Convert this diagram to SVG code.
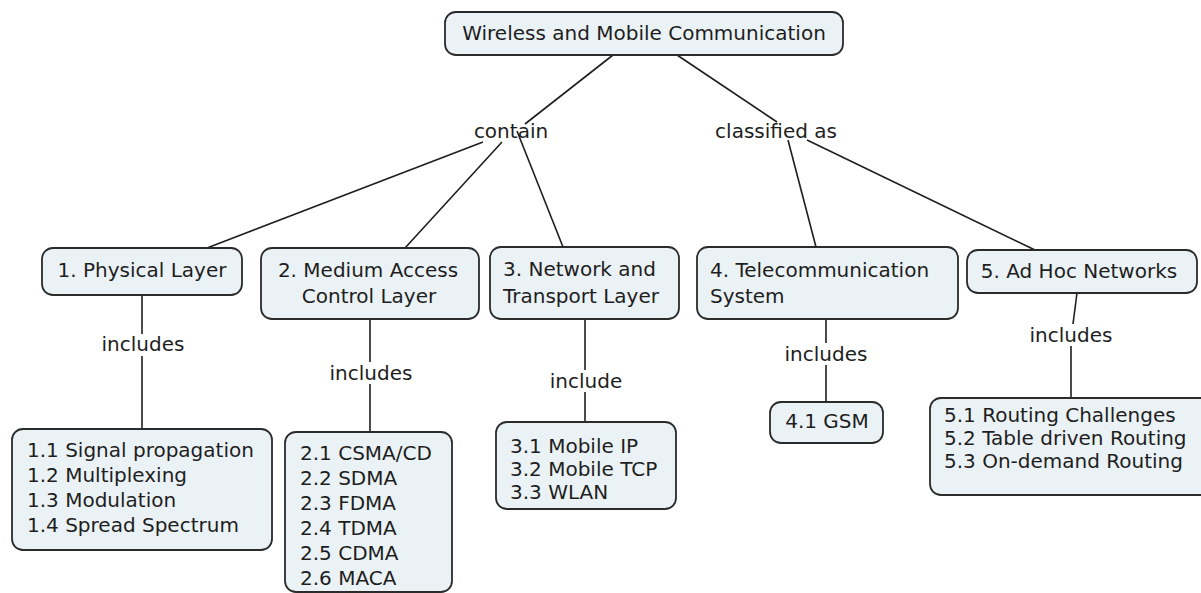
<svg xmlns="http://www.w3.org/2000/svg" width="1201" height="593" viewBox="0 0 1201 593">
<style>
.box{fill:#ebf2f5;stroke:#2b2b2b;stroke-width:1.8}
text{font-family:"DejaVu Sans",Verdana,sans-serif;font-size:20px;fill:#1e1e1e}
.c{text-anchor:middle}
.ln{stroke:#1e1e1e;stroke-width:1.6;fill:none}
</style>
<rect width="1201" height="593" fill="#ffffff"/>
<g id="connectors" class="ln">
<line x1="613" y1="55" x2="525" y2="124"/>
<line x1="677" y1="55" x2="777" y2="122"/>
<line x1="483" y1="142" x2="207" y2="248"/>
<line x1="502" y1="142" x2="405" y2="248"/>
<line x1="517" y1="131" x2="563" y2="247"/>
<line x1="788" y1="140" x2="816" y2="247"/>
<line x1="807" y1="140" x2="1035" y2="250"/>
<line x1="142" y1="295" x2="142" y2="334"/>
<line x1="142" y1="356" x2="142" y2="429"/>
<line x1="370" y1="319" x2="370" y2="362"/>
<line x1="370" y1="384" x2="370" y2="432"/>
<line x1="585" y1="319" x2="585" y2="370"/>
<line x1="585" y1="392" x2="585" y2="422"/>
<line x1="826" y1="319" x2="826" y2="343"/>
<line x1="826" y1="365" x2="826" y2="402"/>
<line x1="1077" y1="293" x2="1073" y2="324"/>
<line x1="1071" y1="346" x2="1071" y2="398"/>
</g>
<g id="labels">
<text class="c" x="511" y="138">contain</text>
<text class="c" x="776" y="138">classified as</text>
<text class="c" x="143" y="351">includes</text>
<text class="c" x="371" y="380">includes</text>
<text class="c" x="586" y="388">include</text>
<text class="c" x="826" y="361">includes</text>
<text class="c" x="1071" y="342">includes</text>
</g>
<g id="root">
<rect class="box" x="445" y="12" width="398" height="43" rx="11"/>
<text class="c" x="644" y="40">Wireless and Mobile Communication</text>
</g>
<g id="n1">
<rect class="box" x="42" y="248" width="200" height="47" rx="11"/>
<text class="c" x="142" y="277">1. Physical Layer</text>
</g>
<g id="n2">
<rect class="box" x="261" y="248" width="218" height="71" rx="11"/>
<text class="c" x="368" y="277">2. Medium Access</text>
<text class="c" x="369" y="303">Control Layer</text>
</g>
<g id="n3">
<rect class="box" x="490" y="247" width="189" height="72" rx="11"/>
<text x="503" y="276">3. Network and</text>
<text x="503" y="303">Transport Layer</text>
</g>
<g id="n4">
<rect class="box" x="697" y="247" width="261" height="72" rx="11"/>
<text x="710" y="277">4. Telecommunication</text>
<text x="710" y="303">System</text>
</g>
<g id="n5">
<rect class="box" x="967" y="250" width="230" height="43" rx="11"/>
<text class="c" x="1079" y="278">5. Ad Hoc Networks</text>
</g>
<g id="n1x">
<rect class="box" x="12" y="429" width="260" height="121" rx="11"/>
<text x="27" y="457">1.1 Signal propagation</text>
<text x="27" y="482">1.2 Multiplexing</text>
<text x="27" y="507">1.3 Modulation</text>
<text x="27" y="532">1.4 Spread Spectrum</text>
</g>
<g id="n2x">
<rect class="box" x="285" y="432" width="167" height="160" rx="11"/>
<text x="300" y="460">2.1 CSMA/CD</text>
<text x="300" y="485">2.2 SDMA</text>
<text x="300" y="510">2.3 FDMA</text>
<text x="300" y="535">2.4 TDMA</text>
<text x="300" y="560">2.5 CDMA</text>
<text x="300" y="585">2.6 MACA</text>
</g>
<g id="n3x">
<rect class="box" x="496" y="422" width="180" height="87" rx="11"/>
<text x="510" y="453">3.1 Mobile IP</text>
<text x="510" y="476">3.2 Mobile TCP</text>
<text x="510" y="499">3.3 WLAN</text>
</g>
<g id="n4x">
<rect class="box" x="770" y="402" width="113" height="41" rx="11"/>
<text class="c" x="827" y="428">4.1 GSM</text>
</g>
<g id="n5x">
<rect class="box" x="930" y="398" width="290" height="97" rx="11"/>
<text x="944" y="422">5.1 Routing Challenges</text>
<text x="944" y="445">5.2 Table driven Routing</text>
<text x="944" y="468">5.3 On-demand Routing</text>
</g>
</svg>
